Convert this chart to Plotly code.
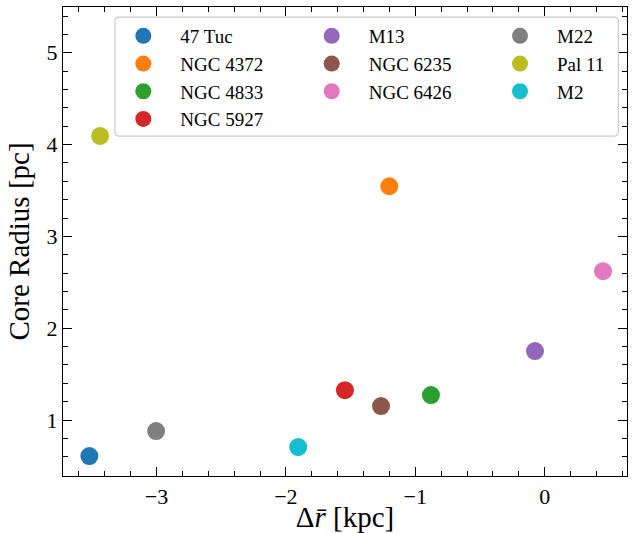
import plotly.graph_objects as go

# ---- data ----
names = ["47 Tuc", "NGC 4372", "NGC 4833", "NGC 5927", "M13",
         "NGC 6235", "NGC 6426", "M22", "Pal 11", "M2"]
delta_r = [-3.519, -1.201, -0.879, -1.544, -0.075,
           -1.265, 0.451, -3.003, -3.436, -1.905]
core_radius = [0.608, 3.546, 1.272, 1.326, 1.751,
               1.152, 2.621, 0.880, 4.094, 0.706]
colors = ["#1f77b4", "#ff7f0e", "#2ca02c", "#d62728", "#9467bd",
          "#8c564b", "#e377c2", "#7f7f7f", "#bcbd22", "#17becf"]
legend_ids = ["legend"] * 4 + ["legend2"] * 3 + ["legend3"] * 3

x_range = [-3.7226, 0.636]
y_range = [0.391, 5.498]

FONT = "Liberation Serif, serif"

fig = go.Figure()
for n, xv, yv, c, lg in zip(names, delta_r, core_radius, colors, legend_ids):
    fig.add_trace(go.Scatter(
        x=[xv], y=[yv], mode="markers", name=n, legend=lg,
        marker=dict(size=18, color=c, line=dict(width=0)),
    ))

W, H = 634, 533
ml, mr, mt, mb = 63, 7, 6.5, 57
pw, ph = W - ml - mr, H - mt - mb


def px_to_paper_x(px):
    return (px - ml) / pw


def px_to_paper_y(py):
    return (H - mb - py) / ph


axis_common = dict(
    showline=True, linecolor="black", linewidth=1.3, mirror="ticks",
    ticks="inside", ticklen=9, tickwidth=1.3, tickcolor="black",
    showgrid=False, zeroline=False, dtick=1, tick0=0,
    tickfont=dict(family=FONT, size=22, color="black"),
    minor=dict(ticks="inside", ticklen=5, tickwidth=1.1, tickcolor="black",
               dtick=0.2, tick0=0, showgrid=False),
)

leg_common = dict(
    xanchor="left", yanchor="top", y=px_to_paper_y(16.5),
    bgcolor="rgba(0,0,0,0)", borderwidth=0, itemwidth=64,
    font=dict(family=FONT, size=19, color="black"),
    tracegroupgap=0,
)

# rounded legend frame
x0, x1 = px_to_paper_x(115), px_to_paper_x(618.3)
y0, y1 = px_to_paper_y(135.7), px_to_paper_y(16.7)
rx, ry = 4 / pw, 4 / ph
path = (f"M {x0+rx},{y1} L {x1-rx},{y1} Q {x1},{y1} {x1},{y1-ry} "
        f"L {x1},{y0+ry} Q {x1},{y0} {x1-rx},{y0} "
        f"L {x0+rx},{y0} Q {x0},{y0} {x0},{y0+ry} "
        f"L {x0},{y1-ry} Q {x0},{y1} {x0+rx},{y1} Z")

fig.update_layout(
    width=W, height=H,
    margin=dict(l=ml, r=mr, t=mt, b=mb, autoexpand=False),
    paper_bgcolor="white", plot_bgcolor="white",
    font=dict(family=FONT, color="black"),
    xaxis=dict(range=x_range, **axis_common,
               title=dict(text="Δ<i>r̄</i> [kpc]",
                          font=dict(family=FONT, size=29, color="black"),
                          standoff=2)),
    yaxis=dict(range=y_range, **axis_common,
               title=dict(text="Core Radius [pc]",
                          font=dict(family=FONT, size=29, color="black"),
                          standoff=8)),
    legend=dict(x=px_to_paper_x(143.3 - 37), **leg_common),
    legend2=dict(x=px_to_paper_x(331.7 - 37), **leg_common),
    legend3=dict(x=px_to_paper_x(520 - 37), **leg_common),
    shapes=[dict(type="path", path=path, xref="paper", yref="paper",
                 line=dict(color="#cccccc", width=1.2),
                 fillcolor="rgba(255,255,255,0.8)", layer="above")],
    showlegend=True,
)

fig.write_html("out.html",
               config={"displayModeBar": False},
               post_script="document.body.style.margin='0px';"
                           "document.body.style.overflow='hidden';")
